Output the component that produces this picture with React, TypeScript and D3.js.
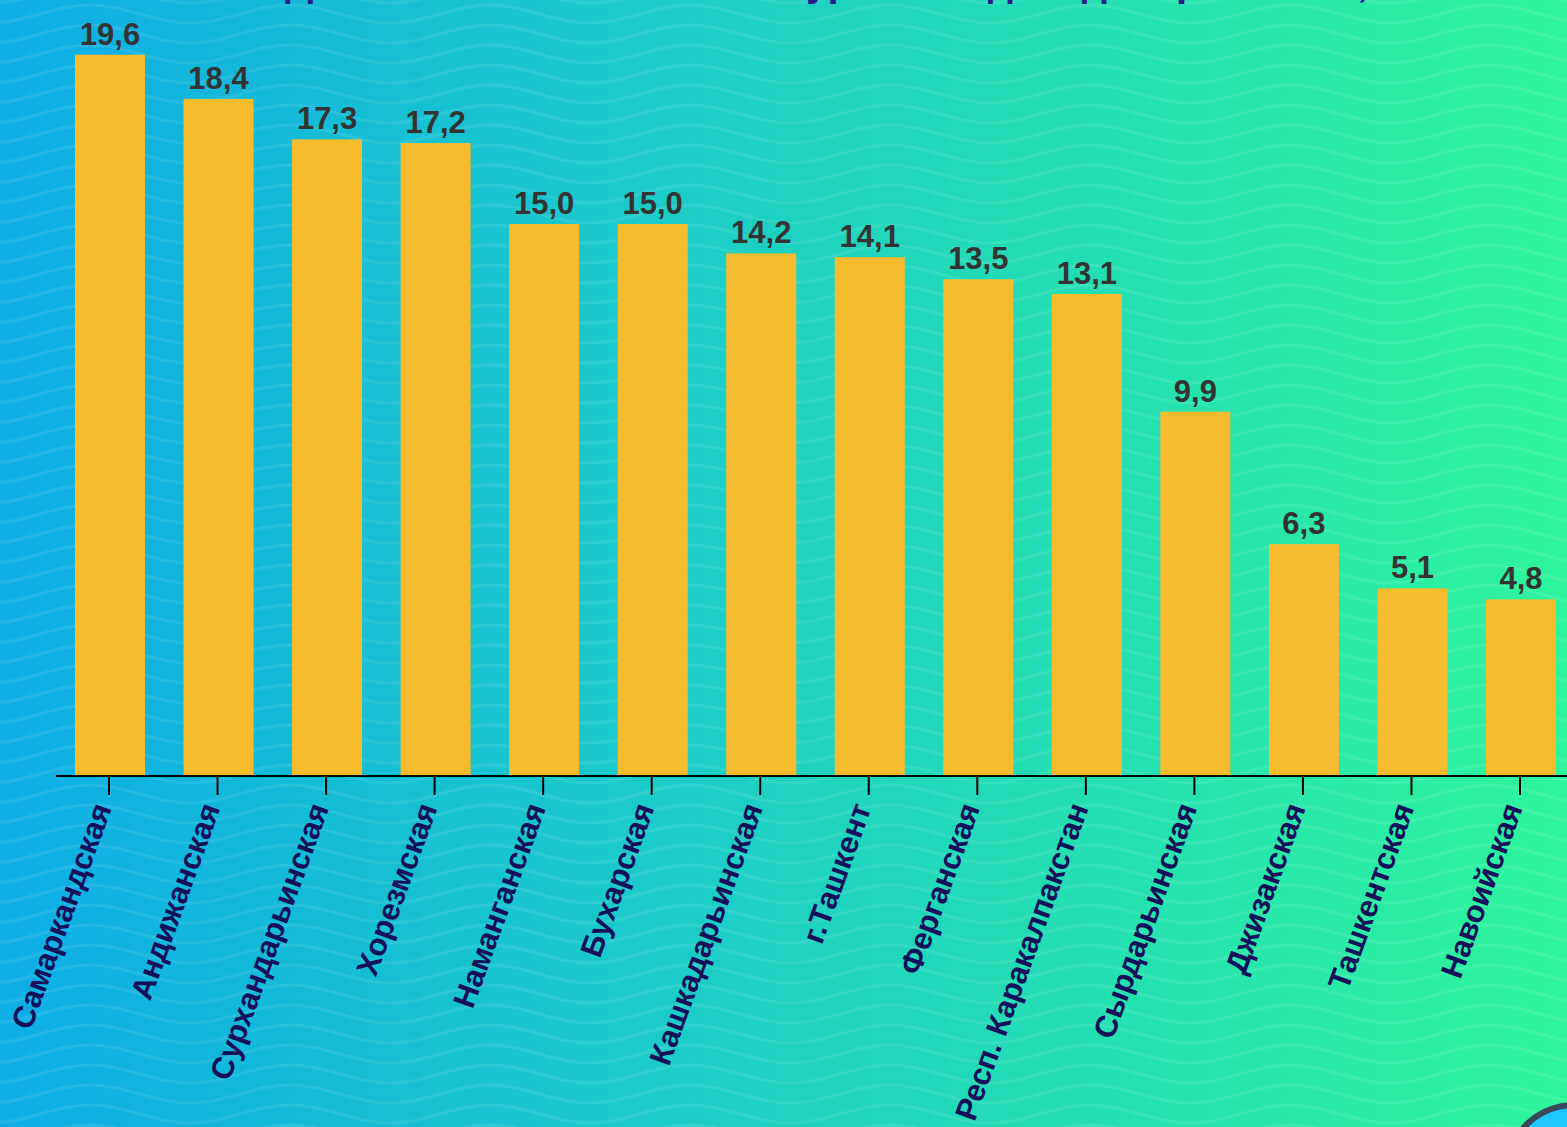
import React, { useEffect } from 'react';
import * as d3 from 'd3';

// regions, sorted the same way as the picture
const regions: string[] = [
  'Самаркандская',
  'Андижанская',
  'Сурхандарьинская',
  'Хорезмская',
  'Наманганская',
  'Бухарская',
  'Кашкадарьинская',
  'г.Ташкент',
  'Ферганская',
  'Респ. Каракалпакстан',
  'Сырдарьинская',
  'Джизакская',
  'Ташкентская',
  'Навоийская',
];

const values: number[] = [19.6, 18.4, 17.3, 17.2, 15.0, 15.0, 14.2, 14.1, 13.5, 13.1, 9.9, 6.3, 5.1, 4.8];

const title = 'Доля населения с низким уровнем дохода в регионах, %';

const W = 1567;
const H = 1127;
const axisY = 776;

const fmt = (v: number) => v.toFixed(1).replace('.', ',');

// one wavy line across a 200px tile, trough at x=-10, crest at x=90
const wave = (c: number) =>
  `M-10,${c + 9} C26,${c + 9} 54,${c - 9} 90,${c - 9} S154,${c + 9} 190,${c + 9} S254,${c - 9} 290,${c - 9}`;

const App = () => {
  useEffect(() => {
    // get rid of the default body margin so the svg sits at 0,0
    document.body.style.margin = '0';
    document.body.style.overflow = 'hidden';
  }, []);

  const x = d3
    .scaleBand<string>()
    .domain(regions)
    .range([56, 1575])
    .paddingInner(0.355)
    .paddingOuter(0.175);

  const y = d3.scaleLinear().domain([0, 20]).range([axisY, 40]);

  const font = '"Liberation Sans", Arial, sans-serif';

  return (
    <svg width={W} height={H} style={{ display: 'block' }}>
      <defs>
        <linearGradient id="bg" x1="0" y1="0" x2="1" y2="0">
          <stop offset="0%" stopColor="#0eaee6" />
          <stop offset="100%" stopColor="#2ef49c" />
        </linearGradient>
        <pattern id="waves" patternUnits="userSpaceOnUse" width={200} height={20}>
          {[-6, 14, 34].map((c) => (
            <path key={c} d={wave(c)} fill="none" stroke="#ffffff" strokeOpacity={0.09} strokeWidth={3} />
          ))}
        </pattern>
      </defs>

      <rect width={W} height={H} fill="url(#bg)" />
      <rect width={W} height={H} fill="url(#waves)" />

      {/* title is mostly cut off by the top of the picture */}
      <text x={850} y={-4} textAnchor="middle" fontFamily={font} fontWeight="bold" fontSize={40} fill="#2a1c8c">
        {title}
      </text>

      {/* bars */}
      {values.map((v, i) => (
        <rect
          key={regions[i]}
          x={x(regions[i])}
          y={y(v)}
          width={x.bandwidth()}
          height={axisY - y(v)}
          fill="#f7bb2e"
        />
      ))}

      {/* value labels */}
      {values.map((v, i) => (
        <text
          key={'v' + i}
          x={(x(regions[i]) as number) + x.bandwidth() / 2}
          y={y(v) - 10}
          textAnchor="middle"
          fontFamily={font}
          fontWeight="bold"
          fontSize={31}
          fill="#333333"
        >
          {fmt(v)}
        </text>
      ))}

      {/* x axis */}
      <line x1={56} x2={W} y1={axisY} y2={axisY} stroke="#000" strokeWidth={2} />
      {regions.map((r) => {
        const cx = (x(r) as number) + x.bandwidth() / 2 - 1;
        return (
          <g key={'t' + r} transform={`translate(${cx},${axisY})`}>
            <line y1={0} y2={19} stroke="#000" strokeWidth={2} />
            <text
              transform="translate(3,32) rotate(-70)"
              textAnchor="end"
              fontFamily={font}
              fontWeight="bold"
              fontSize={31}
              fill="#14105a"
            >
              {r}
            </text>
          </g>
        );
      })}

      {/* round badge in the corner */}
      <circle cx={1575} cy={1175} r={70} fill="#1ec8ff" stroke="#39475a" strokeWidth={6} />
    </svg>
  );
};

export default App;
